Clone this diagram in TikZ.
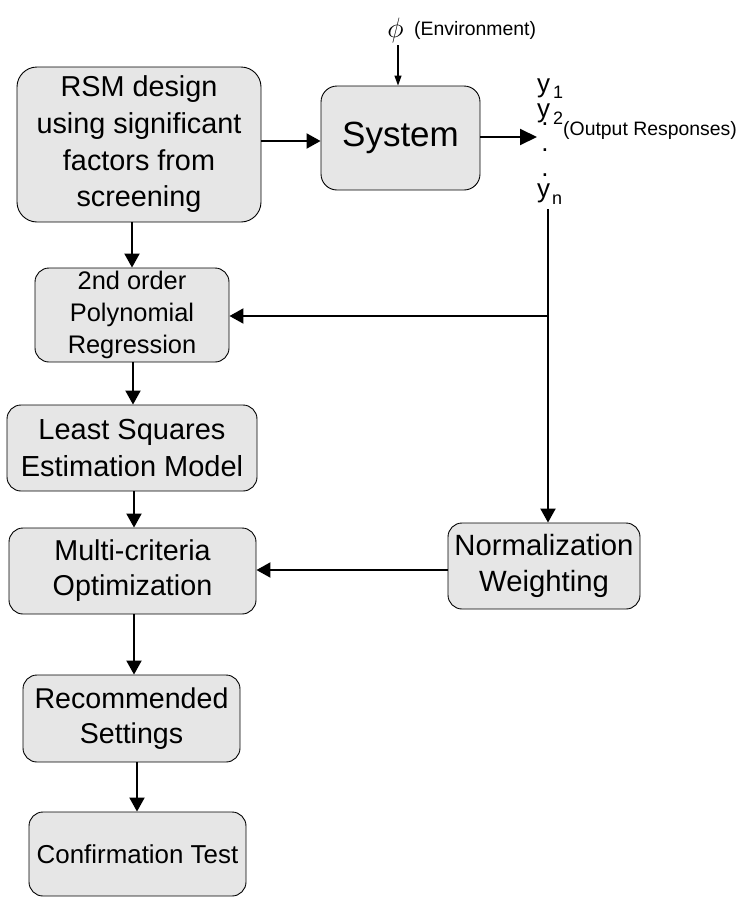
\documentclass[tikz,border=0pt]{standalone}
\usepackage{fontspec}
\setmainfont{Liberation Sans}
\usetikzlibrary{arrows.meta}
\definecolor{boxgray}{HTML}{E6E6E6}
\begin{document}
\begin{tikzpicture}[x=1pt,y=-1pt,
  blk/.style={draw=black, line width=0.9pt, fill=boxgray, rounded corners=14pt,
              align=center, inner sep=0pt},
  arr/.style={line width=2pt, -{Triangle[length=14pt,width=15pt]}},
  bigarr/.style={line width=2pt, -{Triangle[length=17pt,width=16pt]}},
  thinarr/.style={line width=1.2pt, -{Triangle[length=10pt,width=7pt]}},
  ylab/.style={anchor=base west, inner sep=0pt, font=\fontsize{26}{26}\selectfont},
  sub/.style={anchor=base west, inner sep=0pt, font=\fontsize{18}{18}\selectfont},
  vdot/.style={anchor=base, inner sep=0pt, font=\fontsize{26}{26}\selectfont},
  small/.style={inner sep=0pt, font=\fontsize{19.4}{22}\selectfont}]
\useasboundingbox (0,0) rectangle (748,897);

% process boxes
\node[blk, minimum width=244pt, minimum height=155pt, rounded corners=20pt,
      font=\fontsize{28.8}{36.7}\selectfont] (rsm) at (139,144.5)
      {RSM design\\using significant\\factors from\\screening};
\node[blk, minimum width=159pt, minimum height=104pt, rounded corners=16pt,
      font=\fontsize{35}{40}\selectfont] (sys) at (400.5,138) {System};
\node[blk, minimum width=194pt, minimum height=94pt,
      font=\fontsize{25.4}{32}\selectfont] (poly) at (132,315)
      {2nd order\\Polynomial\\Regression};
\node[blk, minimum width=250pt, minimum height=86pt,
      font=\fontsize{29}{37}\selectfont] (lsq) at (132,448)
      {Least Squares\\Estimation Model};
\node[blk, minimum width=247pt, minimum height=86pt,
      font=\fontsize{28.7}{35}\selectfont] (multi) at (132.5,571)
      {Multi-criteria\\Optimization};
\node[blk, minimum width=192pt, minimum height=86pt,
      font=\fontsize{29.3}{36}\selectfont] (norm) at (544,566)
      {Normalization\\Weighting};
\node[blk, minimum width=217pt, minimum height=87pt,
      font=\fontsize{28.6}{35}\selectfont] (rec) at (131.5,718.5)
      {Recommended\\Settings};
\node[blk, minimum width=217pt, minimum height=84pt,
      font=\fontsize{25.9}{32}\selectfont] (conf) at (137.5,854)
      {Confirmation Test};

% environment input
\node[inner sep=0pt, font=\fontsize{20}{20}\selectfont, scale=1.35] (phi) at (395.5,30.5) {$\phi$};
\node[small, anchor=base west] (env) at (414,35) {(Environment)};
\coordinate (envtop) at (398,45);
\draw[thinarr] (envtop) -- (envtop |- sys.north);

% output responses
\coordinate (out) at (537,137);
\draw[bigarr] ([yshift=1pt]sys.east) -- (out);
\node[ylab] (y1) at (537,92) {y};
\node[sub] (s1) at (553,98) {1};
\node[ylab] (y2) at (537,117) {y};
\node[sub] (s2) at (553,124) {2};
\node[small, anchor=base west] (outlab) at (563,135) {(Output Responses)};
\node[vdot] (d1) at (545,125) {.};
\node[vdot] (d2) at (545,151.5) {.};
\node[vdot] (d3) at (545,176) {.};
\node[ylab] (yn) at (537,197) {y};
\node[sub] (sn) at (552,204) {n};

% feedback of responses
\coordinate (ytop) at (548,209);
\coordinate (br) at (548,316);
\draw[arr] (ytop) -- (ytop |- norm.north);
\draw[arr] (br) -- (br -| poly.east);
\draw[arr] ([yshift=-4pt]norm.west) -- ([yshift=-4pt]norm.west -| multi.east);

% main flow
\draw[arr] ([yshift=3.5pt]rsm.east) -- ([yshift=3.5pt]rsm.east -| sys.west);
\draw[arr] (rsm.south -| poly.north) -- (poly.north);
\draw[arr] ([xshift=1pt]poly.south) -- ([xshift=1pt]poly.south |- lsq.north);
\draw[arr] ([xshift=2pt]lsq.south) -- ([xshift=2pt]lsq.south |- multi.north);
\draw[arr] ([xshift=1.5pt]multi.south) -- ([xshift=1.5pt]multi.south |- rec.north);
\draw[arr] ([xshift=5.5pt]rec.south) -- ([xshift=5.5pt]rec.south |- conf.north);
\end{tikzpicture}
\end{document}
